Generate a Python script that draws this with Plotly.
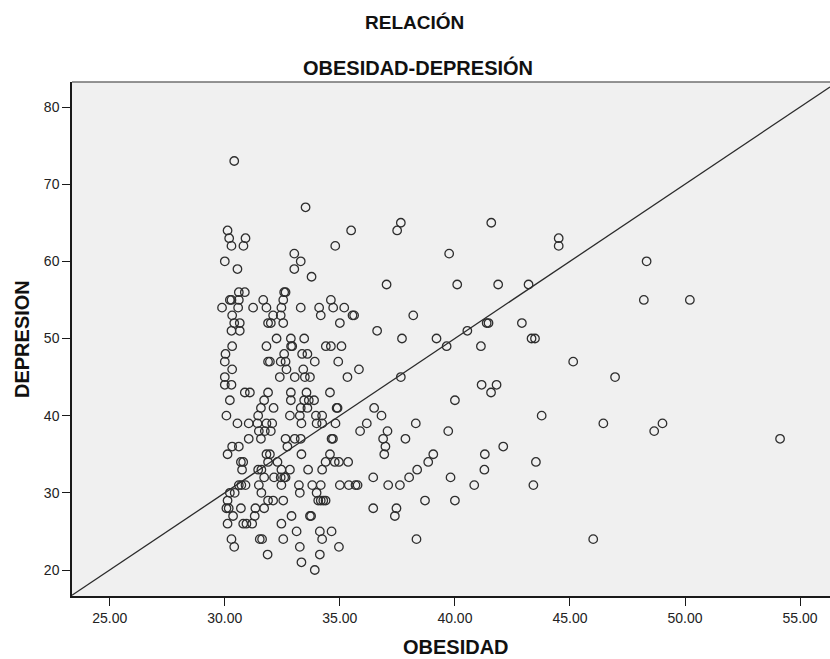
import plotly.graph_objects as go

# ---- data (OBESIDAD = x, DEPRESION = y) ----
OBESIDAD = [
    30.41,
    33.51,
    37.65, 41.58,
    30.12, 35.49, 37.49,
    30.19, 30.90, 44.51,
    30.29, 30.81, 34.80, 44.51,
    33.02, 39.75,
    30.00, 33.30, 48.33,
    30.55, 33.02,
    33.77,
    37.03, 40.10, 41.88, 43.20,
    30.61, 30.87, 32.58, 32.64,
    30.22, 30.29, 30.61, 31.67, 32.54, 34.61, 48.21, 50.21,
    29.88, 30.58, 31.23, 31.81, 32.46, 33.30, 34.10, 34.71, 35.19,
    30.32, 32.10, 32.43, 34.17, 35.55, 35.62, 38.19,
    30.41, 30.65, 31.88, 32.00, 32.54, 35.00, 41.38, 41.46, 42.91,
    30.29, 30.65, 36.62, 40.54,
    32.25, 32.87, 33.45, 37.70, 39.20, 43.33, 43.48,
    30.32, 31.81, 32.88, 32.93, 34.39, 34.61, 35.07, 39.64, 41.13,
    30.03, 32.58, 33.36, 33.59,
    30.00, 31.88, 31.96, 32.43, 32.64, 33.91, 34.93, 45.14,
    30.32, 32.68, 33.41, 35.83,
    30.00, 32.39, 33.04, 33.48, 33.70, 35.33, 37.65, 46.96,
    30.00, 30.29, 41.16, 41.81,
    30.87, 31.09, 31.88, 32.87, 33.55, 34.57, 41.57,
    30.22, 31.71, 32.87, 33.45, 33.65, 33.88, 40.00,
    31.57, 32.12, 33.30, 33.59, 34.86, 34.90, 36.49,
    30.07, 31.45, 32.83, 33.26, 33.96, 34.23, 36.81, 43.77,
    30.55, 31.04, 31.42, 31.81, 32.06, 33.33, 33.99, 34.23, 34.81, 36.17, 38.30, 46.45, 49.02,
    31.48, 31.74, 32.00, 35.88, 37.07, 39.71, 48.66,
    31.04, 31.57, 32.64, 33.04, 33.30, 34.64, 34.70, 36.88, 37.85, 54.13,
    30.32, 30.61, 32.72, 36.98, 42.10,
    30.12, 31.81, 31.96, 33.33, 34.57, 36.93, 39.06, 41.30,
    30.70, 30.80, 31.88, 32.29, 34.38, 34.78, 34.96, 35.36, 38.84, 43.52,
    30.75, 31.45, 31.59, 32.46, 32.83, 33.62, 34.23, 38.36, 41.28,
    31.71, 32.14, 32.43, 32.58, 32.64, 36.45, 38.01, 39.81,
    30.61, 30.72, 30.90, 31.48, 32.46, 33.22, 33.80, 34.17, 35.00, 35.39, 35.68, 35.77, 37.10, 37.61, 40.84, 43.41,
    30.22, 30.43, 31.59, 33.26, 33.99,
    30.12, 31.88, 32.10, 32.54, 34.06, 34.17, 34.28, 34.38, 38.70, 40.00,
    30.07, 30.17, 30.70, 31.33, 31.71, 36.45, 37.46,
    30.36, 31.30, 32.90, 33.70, 33.75, 37.39,
    30.12, 30.80, 30.94, 31.19, 32.46,
    33.12, 34.13, 34.64,
    30.29, 31.52, 31.62, 32.54, 34.23, 38.33, 46.01,
    30.41, 33.26, 34.96,
    31.86, 34.13,
    33.33,
    33.91,
]

DEPRESION = [
    73,
    67,
    65, 65,
    64, 64, 64,
    63, 63, 63,
    62, 62, 62, 62,
    61, 61,
    60, 60, 60,
    59, 59,
    58,
    57, 57, 57, 57,
    56, 56, 56, 56,
    55, 55, 55, 55, 55, 55, 55, 55,
    54, 54, 54, 54, 54, 54, 54, 54, 54,
    53, 53, 53, 53, 53, 53, 53,
    52, 52, 52, 52, 52, 52, 52, 52, 52,
    51, 51, 51, 51,
    50, 50, 50, 50, 50, 50, 50,
    49, 49, 49, 49, 49, 49, 49, 49, 49,
    48, 48, 48, 48,
    47, 47, 47, 47, 47, 47, 47, 47,
    46, 46, 46, 46,
    45, 45, 45, 45, 45, 45, 45, 45,
    44, 44, 44, 44,
    43, 43, 43, 43, 43, 43, 43,
    42, 42, 42, 42, 42, 42, 42,
    41, 41, 41, 41, 41, 41, 41,
    40, 40, 40, 40, 40, 40, 40, 40,
    39, 39, 39, 39, 39, 39, 39, 39, 39, 39, 39, 39, 39,
    38, 38, 38, 38, 38, 38, 38,
    37, 37, 37, 37, 37, 37, 37, 37, 37, 37,
    36, 36, 36, 36, 36,
    35, 35, 35, 35, 35, 35, 35, 35,
    34, 34, 34, 34, 34, 34, 34, 34, 34, 34,
    33, 33, 33, 33, 33, 33, 33, 33, 33,
    32, 32, 32, 32, 32, 32, 32, 32,
    31, 31, 31, 31, 31, 31, 31, 31, 31, 31, 31, 31, 31, 31, 31, 31,
    30, 30, 30, 30, 30,
    29, 29, 29, 29, 29, 29, 29, 29, 29, 29,
    28, 28, 28, 28, 28, 28, 28,
    27, 27, 27, 27, 27, 27,
    26, 26, 26, 26, 26,
    25, 25, 25,
    24, 24, 24, 24, 24, 24, 24,
    23, 23, 23,
    22, 22,
    21,
    20,
]

X_TICKS = [25, 30, 35, 40, 45, 50, 55]
X_TICK_LABELS = ["25.00", "30.00", "35.00", "40.00", "45.00", "50.00", "55.00"]
Y_TICKS = [20, 30, 40, 50, 60, 70, 80]
Y_TICK_LABELS = ["20", "30", "40", "50", "60", "70", "80"]

X_RANGE = [23.36, 56.3]
Y_RANGE = [16.63, 83.24]

# reference line y = a*x + b
LINE_SLOPE = 2.0
LINE_INTERCEPT = -30.0
LINE_X = [X_RANGE[0], X_RANGE[1]]
LINE_Y = [LINE_SLOPE * v + LINE_INTERCEPT for v in LINE_X]

TITLE_1 = "RELACIÓN"
TITLE_2 = "OBESIDAD-DEPRESIÓN"
X_TITLE = "OBESIDAD"
Y_TITLE = "DEPRESION"

FONT = "Liberation Sans, Arial, sans-serif"

fig = go.Figure()

fig.add_trace(go.Scatter(
    x=LINE_X, y=LINE_Y, mode="lines",
    line=dict(color="#2b2b2b", width=1.3),
    hoverinfo="skip", showlegend=False,
))

fig.add_trace(go.Scatter(
    x=OBESIDAD, y=DEPRESION, mode="markers",
    marker=dict(symbol="circle-open", size=8.5,
                color="#2e2e2e", line=dict(width=1.3, color="#2e2e2e")),
    showlegend=False,
))

fig.update_layout(
    width=830, height=659,
    margin=dict(l=72, r=0, t=82, b=63),
    paper_bgcolor="white",
    plot_bgcolor="#f0f0f0",
    font=dict(family=FONT, color="#1a1a1a", size=14),
    showlegend=False,
)

fig.update_xaxes(
    range=X_RANGE, tickvals=X_TICKS, ticktext=X_TICK_LABELS,
    showgrid=False, zeroline=False,
    showline=True, linecolor="#1a1a1a", linewidth=1.5,
    ticks="outside", ticklen=8, tickwidth=1.3, tickcolor="#1a1a1a",
    tickfont=dict(size=14, color="#222"),
)
fig.update_yaxes(
    range=Y_RANGE, tickvals=Y_TICKS, ticktext=Y_TICK_LABELS,
    showgrid=False, zeroline=False,
    showline=True, linecolor="#1a1a1a", linewidth=1.5,
    ticks="outside", ticklen=8, tickwidth=1.3, tickcolor="#1a1a1a",
    tickfont=dict(size=14, color="#222"),
)

# top frame line
fig.add_shape(type="line", xref="paper", yref="paper", x0=0, x1=1, y0=1, y1=1,
              line=dict(color="#707070", width=1.5))

plot_h = 659 - 82 - 63
fig.add_annotation(text="<b>" + TITLE_1 + "</b>", xref="paper", yref="paper",
                   x=0.452, y=1 + (82 - 23) / plot_h, showarrow=False,
                   xanchor="center", yanchor="middle", font=dict(size=19, color="#111"))
fig.add_annotation(text="<b>" + TITLE_2 + "</b>", xref="paper", yref="paper",
                   x=0.457, y=1 + (82 - 67) / plot_h, showarrow=False,
                   xanchor="center", yanchor="middle", font=dict(size=20, color="#111"))
fig.add_annotation(text="<b>" + X_TITLE + "</b>", xref="paper", yref="paper",
                   x=(455.8 - 72) / 758, y=(596 - 647) / plot_h, showarrow=False,
                   xanchor="center", yanchor="middle", font=dict(size=20, color="#111"))
fig.add_annotation(text="<b>" + Y_TITLE + "</b>", xref="paper", yref="paper",
                   x=(22 - 72) / 758, y=0.5, showarrow=False, textangle=-90,
                   xanchor="center", yanchor="middle", font=dict(size=20, color="#111"))

fig.write_html("out.html")
